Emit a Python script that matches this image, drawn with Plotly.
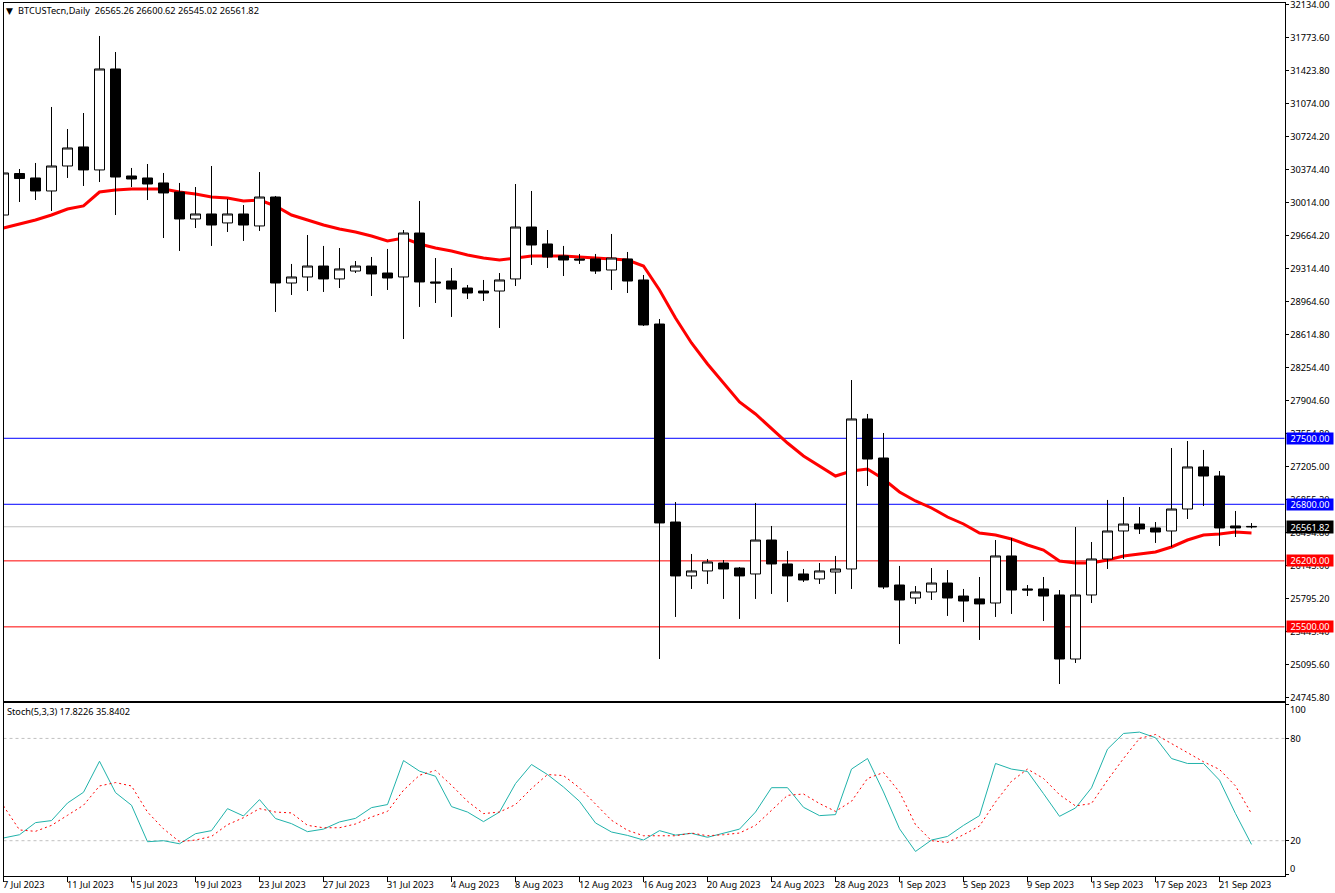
import pandas as pd
import plotly.graph_objects as go

W = 1335
H = 893

dates = pd.date_range("2023-07-07", periods=79, freq="D")

open_ = [29868, 30308, 30261, 30123, 30388, 30590, 30346, 31417, 30282, 30261,
         30208, 30112, 29826, 29879, 29784, 29879, 29752, 30059, 29147, 29211,
         29327, 29190, 29274, 29327, 29253, 29211, 29677, 29158, 29168, 29094,
         29062, 29062, 29190, 29741, 29561, 29434, 29402, 29402, 29285, 29402,
         29179, 28712, 26612, 26040, 26093, 26177, 26124, 26061, 26421, 26167,
         26061, 26008, 26082, 26114, 27705, 27291, 25944, 25806, 25870, 25965,
         25827, 25796, 25753, 26252, 25902, 25902, 25838, 25159, 25838, 26220,
         26517, 26591, 26549, 26517, 26750, 27196, 27100, 26570, 26565.26]
high = [30420, 30356, 30420, 31014, 30780, 30950, 31767, 31597, 30367, 30409,
        30314, 30208, 30165, 30388, 30038, 29974, 30324, 30070, 29349, 29656,
        29540, 29518, 29380, 29423, 29508, 29709, 30017, 29412, 29306, 29126,
        29179, 29253, 30197, 30123, 29709, 29540, 29455, 29455, 29667, 29476,
        29232, 28765, 26824, 26273, 26220, 26209, 26135, 26814, 26570, 26305,
        26114, 26177, 26252, 28118, 27758, 27556, 26146, 25933, 26124, 26103,
        25902, 26029, 26421, 26443, 25944, 26029, 25891, 26559, 26400, 26846,
        26877, 26771, 26612, 27397, 27471, 27376, 27153, 26729, 26600.62]
low = [29677, 30006, 30027, 29911, 30261, 30176, 30218, 29868, 30165, 30027,
       29624, 29487, 29730, 29540, 29688, 29593, 29699, 28840, 29020, 29062,
       29052, 29094, 29253, 29009, 29073, 28553, 28893, 28935, 28787, 28977,
       28956, 28670, 29115, 29338, 29306, 29221, 29349, 29243, 29073, 29041,
       28691, 25159, 25605, 25902, 25955, 25796, 25584, 25796, 25849, 25764,
       25976, 25955, 25849, 25902, 26994, 25902, 25318, 25743, 25785, 25616,
       25552, 25361, 25605, 25637, 25827, 25562, 24894, 25117, 25753, 26114,
       26220, 26485, 26390, 26347, 26644, 26782, 26358, 26453, 26545.02]
close = [30314, 30255, 30123, 30388, 30579, 30346, 31417, 30271, 30250, 30197,
         30102, 29826, 29879, 29762, 29879, 29762, 30059, 29147, 29211, 29327,
         29190, 29296, 29327, 29243, 29200, 29677, 29158, 29147, 29083, 29041,
         29041, 29179, 29741, 29550, 29423, 29391, 29391, 29274, 29412, 29168,
         28702, 26602, 26040, 26093, 26188, 26114, 26040, 26421, 26167, 26040,
         25997, 26093, 26114, 27705, 27280, 25923, 25785, 25870, 25965, 25806,
         25774, 25743, 26252, 25891, 25891, 25827, 25159, 25838, 26220, 26517,
         26591, 26538, 26506, 26750, 27196, 27100, 26549, 26549, 26561.82]
ema = [29730, 29773, 29815, 29868, 29932, 29964, 30112, 30134, 30144, 30144,
       30144, 30112, 30091, 30059, 30049, 30017, 30027, 29964, 29868, 29815,
       29762, 29720, 29688, 29646, 29593, 29624, 29561, 29518, 29487, 29444,
       29412, 29391, 29412, 29434, 29434, 29434, 29423, 29412, 29402, 29391,
       29327, 29073, 28776, 28511, 28288, 28087, 27885, 27758, 27609, 27450,
       27312, 27206, 27100, 27153, 27174, 27068, 26930, 26835, 26761, 26665,
       26591, 26496, 26474, 26432, 26368, 26315, 26199, 26177, 26177, 26209,
       26252, 26273, 26294, 26347, 26421, 26474, 26485, 26506, 26496]

stoch_main = [21.6, 23.5, 30.6, 31.8, 42.1, 48.4, 66.6, 48.2, 40.8, 19.4,
              20.0, 18.2, 24.1, 25.9, 38.8, 34.5, 44.1, 33.0, 30.0, 25.3,
              26.8, 31.0, 33.1, 39.4, 41.2, 67.0, 60.8, 57.8, 40.0, 36.8,
              31.2, 36.8, 53.5, 64.7, 58.8, 51.5, 43.1, 30.4, 25.1, 23.1,
              20.4, 25.9, 23.3, 24.3, 22.0, 24.3, 26.8, 36.8, 51.1, 51.1,
              39.6, 34.7, 35.3, 62.0, 68.2, 48.6, 27.0, 13.7, 20.4, 22.5,
              29.0, 34.7, 65.3, 62.0, 60.6, 47.6, 34.3, 39.2, 51.0, 73.7,
              82.9, 83.7, 80.4, 68.2, 65.3, 65.3, 55.5, 35.9, 17.82]
stoch_signal = [40.4, 26.3, 25.5, 29.0, 34.9, 40.8, 52.1, 54.1, 52.1, 36.8,
                27.0, 19.4, 20.4, 22.5, 29.4, 33.5, 38.8, 36.8, 36.3, 29.0,
                27.6, 27.6, 29.8, 33.9, 37.2, 49.6, 58.4, 61.2, 52.5, 43.1,
                35.9, 36.8, 41.2, 50.6, 58.8, 58.2, 51.0, 41.8, 32.0, 26.1,
                22.9, 22.9, 22.9, 24.5, 22.9, 23.5, 24.5, 29.0, 37.8, 46.6,
                47.4, 41.8, 37.2, 43.1, 56.5, 60.0, 48.6, 29.4, 20.0, 19.0,
                23.5, 28.6, 42.7, 54.9, 62.0, 56.5, 47.0, 40.4, 41.8, 55.5,
                68.2, 80.0, 82.3, 77.0, 71.2, 66.3, 61.8, 52.1, 35.84]

price_labels = ["32134.00", "31773.60", "31423.80", "31074.00", "30724.20", "30374.40",
                "30014.00", "29664.20", "29314.40", "28964.60", "28614.80", "28254.40",
                "27904.60", "27554.80", "27205.00", "26855.20", "26494.80", "26145.00",
                "25795.20", "25445.40", "25095.60", "24745.80"]
date_labels = ["7 Jul 2023", "11 Jul 2023", "15 Jul 2023", "19 Jul 2023", "23 Jul 2023",
               "27 Jul 2023", "31 Jul 2023", "4 Aug 2023", "8 Aug 2023", "12 Aug 2023",
               "16 Aug 2023", "20 Aug 2023", "24 Aug 2023", "28 Aug 2023", "1 Sep 2023",
               "5 Sep 2023", "9 Sep 2023", "13 Sep 2023", "17 Sep 2023", "21 Sep 2023"]
levels = [27500, 26800, 26200, 25500]
level_colors = ["#0000FF", "#0000FF", "#FF0000", "#FF0000"]
last_price = 26561.82

FONT = "Noto Sans"
FONT_SIZE = 9.2

# plot box in page pixels
left, right = 3.5, 1284.5
main_top, main_bottom = 2.5, 700.5
sub_top, sub_bottom = 702.5, 875.5

x_range = ["2023-07-07", "2023-09-25 01:30"]
main_range = [24719, 32122]
sub_range = [-0.41, 101.06]

fig = go.Figure()

# ema sits on the base axes, candles on an overlay so they cover it
fig.add_trace(go.Scatter(x=dates, y=ema, mode="lines", line=dict(color="#FF0000", width=3),
                         xaxis="x", yaxis="y", showlegend=False))
fig.add_trace(go.Candlestick(x=dates, open=open_, high=high, low=low, close=close,
                             xaxis="x", yaxis="y3", whiskerwidth=0, showlegend=False,
                             increasing=dict(fillcolor="#FFFFFF", line=dict(color="#000000", width=1)),
                             decreasing=dict(fillcolor="#000000", line=dict(color="#000000", width=1))))
fig.add_trace(go.Scatter(x=dates, y=stoch_main, mode="lines", line=dict(color="#20B2AA", width=1),
                         xaxis="x2", yaxis="y2", showlegend=False))
fig.add_trace(go.Scatter(x=dates, y=stoch_signal, mode="lines",
                         line=dict(color="#FF0000", width=1, dash="2px,3px"),
                         xaxis="x2", yaxis="y2", showlegend=False))

shapes = []
annotations = []

for level, color in zip(levels, level_colors):
    shapes.append(dict(type="line", xref="x domain", yref="y", x0=0, x1=1, y0=level, y1=level,
                       line=dict(color=color, width=1), layer="below"))
    annotations.append(dict(text=f"{level:.2f}", xref="paper", yref="y", x=1286 / W, y=level,
                            xanchor="left", yanchor="middle", showarrow=False, bgcolor=color,
                            width=46, height=11, borderpad=0, align="center",
                            font=dict(family=FONT, size=FONT_SIZE, color="#FFFFFF")))
shapes.append(dict(type="line", xref="x domain", yref="y", x0=0, x1=1, y0=last_price, y1=last_price,
                   line=dict(color="#C0C0C0", width=1), layer="below"))
annotations.append(dict(text=f"{last_price:.2f}", xref="paper", yref="y", x=1286 / W, y=last_price,
                        xanchor="left", yanchor="middle", showarrow=False, bgcolor="#000000",
                        width=46, height=12, borderpad=0, align="center",
                        font=dict(family=FONT, size=FONT_SIZE, color="#FFFFFF")))

for v in [80, 20]:
    shapes.append(dict(type="line", xref="x2 domain", yref="y2", x0=0, x1=1, y0=v, y1=v,
                       line=dict(color="#C0C0C0", width=1, dash="3px,3px"), layer="below"))

for d, label in zip(dates[::4], date_labels):
    annotations.append(dict(text=label, xref="x2", yref="y2", x=d, y=sub_range[0], yshift=-9,
                            xanchor="left", yanchor="middle", showarrow=False, xshift=-3,
                            font=dict(family=FONT, size=FONT_SIZE, color="#000000")))

annotations.append(dict(text="▼", xref="paper", yref="paper", x=4 / W, y=1 - 10.5 / H,
                        xanchor="left", yanchor="middle", showarrow=False,
                        font=dict(family="DejaVu Sans", size=9, color="#000000")))
annotations.append(dict(text="BTCUSTecn,Daily\u00a0\u00a026565.26 26600.62 26545.02 26561.82",
                        xref="paper", yref="paper", x=16 / W, y=1 - 10.5 / H,
                        xanchor="left", yanchor="middle", showarrow=False,
                        font=dict(family=FONT, size=FONT_SIZE, color="#000000")))
annotations.append(dict(text="Stoch(5,3,3) 17.8226 35.8402", xref="paper", yref="paper",
                        x=5 / W, y=1 - 711.5 / H, xanchor="left", yanchor="middle", showarrow=False,
                        font=dict(family=FONT, size=FONT_SIZE, color="#000000")))
for v, shift in [(100, -5), (0, 6)]:
    annotations.append(dict(text=str(v), xref="paper", yref="y2", x=1288 / W, y=v, yshift=shift,
                            xanchor="left", yanchor="middle", showarrow=False,
                            font=dict(family=FONT, size=FONT_SIZE, color="#000000")))

# automargin comes on from the default template and shifts the plot box
axis_common = dict(showgrid=False, zeroline=False, showline=True, linecolor="#000000",
                   linewidth=1, mirror=True, automargin=False)
x_domain = [left / W, right / W]

fig.update_layout(
    width=W, height=H, margin=dict(l=0, r=0, t=0, b=0), autosize=False,
    paper_bgcolor="#FFFFFF", plot_bgcolor="#FFFFFF", boxgap=0.375, boxgroupgap=0, hovermode=False,
    font=dict(family=FONT, size=FONT_SIZE, color="#000000"),
    shapes=shapes, annotations=annotations,
    xaxis=dict(domain=x_domain, range=x_range, anchor="y", type="date", ticks="",
               showticklabels=False, rangeslider=dict(visible=False), **axis_common),
    xaxis2=dict(domain=x_domain, range=x_range, anchor="y2", type="date", ticks="outside",
                ticklen=5, tickcolor="#000000", tickvals=list(dates[::4]),
                showticklabels=False, **axis_common),
    yaxis=dict(domain=[1 - main_bottom / H, 1 - main_top / H], range=main_range, anchor="x",
               side="right", ticks="outside", ticklen=3, tickcolor="#000000",
               ticklabeloverflow="allow",
               tickvals=[32100.9 - 350 * i for i in range(len(price_labels))],
               ticktext=price_labels, **axis_common),
    yaxis3=dict(range=main_range, overlaying="y", anchor="x", side="right", visible=False,
                automargin=False),
    yaxis2=dict(domain=[1 - sub_bottom / H, 1 - sub_top / H], range=sub_range, anchor="x2",
                side="right", ticks="outside", ticklen=3, tickcolor="#000000",
                tickvals=[100, 80, 20, 0], ticktext=["", "80", "20", ""], **axis_common),
)

# the browser's default body margin would push the chart off the page
fig.write_html("out.html", config={"displayModeBar": False},
               post_script="document.body.style.margin='0';")
